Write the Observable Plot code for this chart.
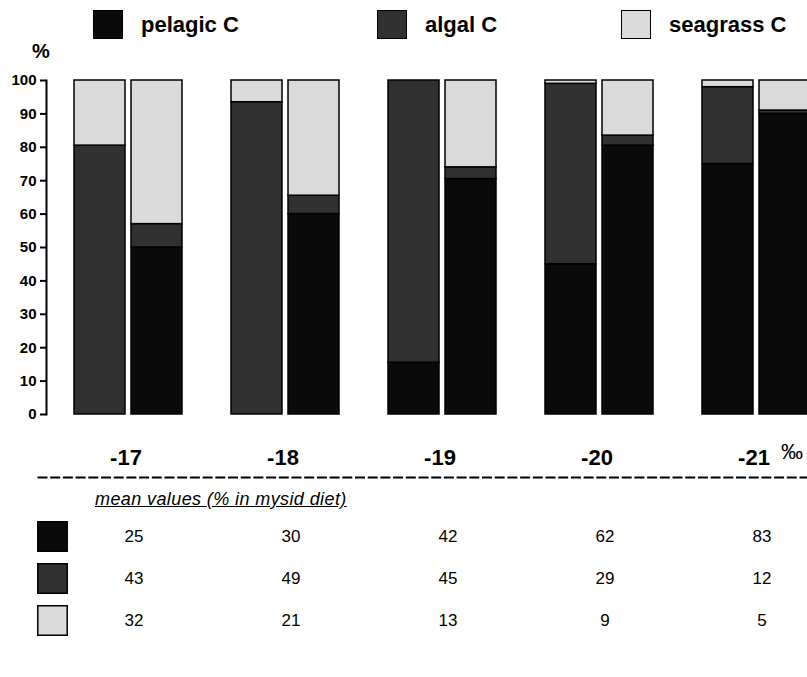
<!DOCTYPE html>
<html>
<head>
<meta charset="utf-8">
<script src="https://cdn.jsdelivr.net/npm/d3@7"></script>
<script src="https://cdn.jsdelivr.net/npm/@observablehq/plot@0.6"></script>
<style>
  html, body { margin: 0; padding: 0; background: #fff; overflow: hidden; }
  #root { position: relative; width: 807px; height: 677px; overflow: hidden; background: #fff;
          font-family: "Liberation Sans", Arial, Helvetica, sans-serif; color: #000; }
  .abs { position: absolute; white-space: nowrap; }
</style>
</head>
<body>
<div id="root"></div>
<script>
// ---------------- data ----------------
const groups = ["-17", "-18", "-19", "-20", "-21"];          // δ13C classes (‰)
const pairs = ["a", "b"];                                      // two bars per class
const series = ["pelagic C", "algal C", "seagrass C"];
const colors = ["#0a0a0a", "#313131", "#dadada"];
// per bar, in order -17a, -17b, -18a, -18b, ... (% of diet)
const pelagicVals  = [0,    50,  0,    60,   15.5, 70.5, 45, 80.5, 75, 90];
const algalVals    = [80.5, 7,   93.5, 5.5,  84.5, 3.5,  54, 3,    23, 1];
const seagrassVals = [19.5, 43,  6.5,  34.5, 0,    26,   1,  16.5, 2,  9];
// mean values table (% in mysid diet)
const pelagicMean  = [25, 30, 42, 62, 83];
const algalMean    = [43, 49, 45, 29, 12];
const seagrassMean = [32, 21, 13, 9, 5];
const yTicks = [0, 10, 20, 30, 40, 50, 60, 70, 80, 90, 100];
const permil = "‰";
const tableTitle = "mean values (% in mysid diet)";

// ---------------- build tables ----------------
const seriesVals = [pelagicVals, algalVals, seagrassVals];
const bars = [];
groups.forEach((g, i) => pairs.forEach((p, j) => {
  series.forEach((s, si) => {
    const v = seriesVals[si][i * 2 + j];
    if (v > 0) bars.push({group: g, pair: p, series: s, value: v});
  });
}));
const meanVals = [pelagicMean, algalMean, seagrassMean];
const tableRows = [];
series.forEach((s, si) => groups.forEach((g, i) => tableRows.push({group: g, series: s, value: meanVals[si][i]})));

const root = document.getElementById("root");
const font = '"Liberation Sans", Arial, Helvetica, sans-serif';

// ---------------- main bar chart ----------------
const chart = Plot.plot({
  width: 813, height: 470,
  marginTop: 80, marginBottom: 56, marginLeft: 73, marginRight: 0,
  style: {maxWidth: "none", background: "transparent", fontFamily: font, overflow: "visible"},
  fx: {domain: groups, paddingInner: 0.305, paddingOuter: 0, label: null},
  x: {domain: pairs, paddingInner: 0.097, paddingOuter: 0, axis: null},
  y: {domain: [0, 100], label: null},
  color: {domain: series, range: colors},
  marks: [
    Plot.barY(bars, {fx: "group", x: "pair", y: "value", fill: "series", order: series,
                     stroke: "#000", strokeWidth: 1.5}),
    Plot.axisY({ticks: yTicks, tickSize: 6, tickPadding: 4, dx: -28, fontSize: 15, fontWeight: "bold",
                strokeWidth: 2, label: null}),
    Plot.frame({anchor: "left", facetAnchor: "left", dx: -28, strokeWidth: 2}),
    Plot.axisFx({anchor: "bottom", tickSize: 0, tickPadding: 35, fontSize: 22, fontWeight: "bold",
                 label: null, dx: -3}),
    Plot.text([{group: groups[groups.length - 1]}], {fx: "group", text: () => permil, frameAnchor: "bottom",
               lineAnchor: "top", dy: 29, dx: 35, fontSize: 22})
  ]
});
chart.style.position = "absolute";
chart.style.left = "0px";
chart.style.top = "0px";
root.appendChild(chart);

// ---------------- mean-value table ----------------
const table = Plot.plot({
  width: 813, height: 211,
  marginTop: 11, marginLeft: 38, marginRight: 0, marginBottom: 0,
  style: {maxWidth: "none", background: "transparent", fontFamily: font, overflow: "visible"},
  x: {type: "band", domain: groups, range: [73, 813], paddingInner: 0.305, paddingOuter: 0, axis: null},
  y: {type: "point", domain: series, range: [69.5, 154.5], padding: 0, axis: null},
  color: {domain: series, range: colors},
  marks: [
    Plot.frame({anchor: "top", strokeDasharray: "8,4.7", strokeWidth: 2}),
    Plot.text(tableRows, {x: "group", y: "series", text: d => String(d.value), fontSize: 17, dx: 5}),
    Plot.dot(series, {y: d => d, frameAnchor: "left", dx: 14, symbol: "square", r: 16.6,
                      fill: d => d, stroke: "#000", strokeWidth: 1.5})
  ]
});
table.style.position = "absolute";
table.style.left = "0px";
table.style.top = "466px";
root.appendChild(table);

// ---------------- top legend (HTML) ----------------
const legendLeft = [93, 377, 621];
series.forEach((s, i) => {
  const sw = document.createElement("div");
  sw.className = "abs";
  Object.assign(sw.style, {left: legendLeft[i] + "px", top: "10px", width: "30px", height: "29px",
    background: colors[i], border: "1.5px solid #000", boxSizing: "border-box"});
  root.appendChild(sw);
  const t = document.createElement("div");
  t.className = "abs";
  t.textContent = s;
  Object.assign(t.style, {left: (legendLeft[i] + 48) + "px", top: "14px", fontSize: "22px",
    lineHeight: "22px", fontWeight: "bold"});
  root.appendChild(t);
});

// "%" unit label above the y axis
const pct = document.createElement("div");
pct.className = "abs";
pct.textContent = "%";
Object.assign(pct.style, {left: "32px", top: "41px", fontSize: "20px", lineHeight: "20px", fontWeight: "bold"});
root.appendChild(pct);

// table title
const tt = document.createElement("div");
tt.className = "abs";
tt.textContent = tableTitle;
Object.assign(tt.style, {left: "95px", top: "490px", fontSize: "18px", lineHeight: "18px", fontStyle: "italic",
  textDecoration: "underline", letterSpacing: "0.4px"});
root.appendChild(tt);
</script>
</body>
</html>
